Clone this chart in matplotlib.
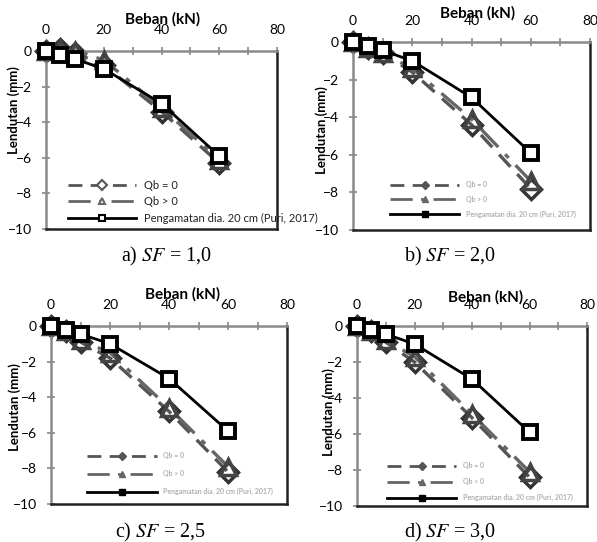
"""
plot.py - load vs deflection, four safety-factor panels (2x2).
"""

import matplotlib
matplotlib.use("Agg")
import matplotlib.pyplot as plt
from matplotlib.lines import Line2D

# ---- data -------------------------------------------------------------
load_obs = [0, 5, 10, 20, 40, 60]
defl_obs = [0, -0.2, -0.45, -1.0, -2.95, -5.9]

load_model = [0, 5, 10, 20, 40, 60]

# Qb = 0 per panel
qb0 = {
    "a": [0, 0.1, -0.1, -0.8, -3.4, -6.3],
    "b": [0, -0.3, -0.6, -1.6, -4.4, -7.8],
    "c": [0, -0.3, -0.9, -1.8, -4.8, -8.2],
    "d": [0, -0.3, -0.9, -2.0, -5.1, -8.4],
}
# Qb > 0 per panel
qbp = {
    "a": [0, 0.1, 0.0, -0.5, -3.2, -6.1],
    "b": [0, -0.3, -0.6, -1.4, -4.1, -7.4],
    "c": [0, -0.3, -0.8, -1.5, -4.6, -7.9],
    "d": [0, -0.3, -0.8, -1.7, -4.9, -8.1],
}

panels = ["a", "b", "c", "d"]
sf_values = ["1,0", "2,0", "2,5", "3,0"]
x_ticks = [0, 20, 40, 60, 80]
y_ticks = [0, -2, -4, -6, -8, -10]
labels = ["Qb = 0", "Qb > 0", "Pengamatan dia. 20 cm (Puri, 2017)"]

# ---- layout (pixel boxes: left, right, top, bottom) ------------------
W, H = 597, 542
boxes = {
    "a": (46, 277, 51, 229),
    "b": (353, 590, 42, 230),
    "c": (51, 287, 326, 504),
    "d": (357, 587, 326, 506),
}
title_pos = {"a": (163, 19), "b": (478, 13), "c": (183, 294), "d": (486, 297)}
caption_pos = {"a": (166, 256), "b": (450, 256), "c": (160, 532), "d": (450, 532)}
# y-axis title centre: x in pixels, y as axes fraction
ylabel_pos = {"a": (14, 0.67), "b": (322, 0.53), "c": (15, 0.545), "d": (329, 0.52)}
# legend: x start (axes frac), bottom (axes frac), label spacing
leg_pos = {
    "a": (0.095, 0.03, 0.5),
    "b": (0.156, 0.066, 1.1),
    "c": (0.153, 0.048, 1.6),
    "d": (0.13, 0.026, 1.3),
}

plt.rcParams["font.family"] = ["Lato", "DejaVu Sans"]

fig = plt.figure(figsize=(W / 100, H / 100), dpi=100)

c_qb0 = "#555555"
c_qbp = "#666666"
ls_qb0 = (0, (5, 3))
ls_qbp = (0, (8, 3, 1.5, 3))

for p, sf in zip(panels, sf_values):
    l, r, t, b = boxes[p]
    ax = fig.add_axes([l / W, 1 - b / H, (r - l) / W, (b - t) / H])

    ax.plot(load_model, qb0[p], color=c_qb0, lw=2.4, ls=ls_qb0,
            marker="D", ms=10, mfc="none", mec="#333333", mew=2.5,
            zorder=2, clip_on=False)
    ax.plot(load_model, qbp[p], color=c_qbp, lw=2.4, ls=ls_qbp,
            marker="^", ms=11, mfc="none", mec="#444444", mew=2.5,
            zorder=3, clip_on=False)
    ax.plot(load_obs, defl_obs, color="black", lw=2,
            marker="s", ms=10, mfc="white", mec="black", mew=2.8,
            zorder=4, clip_on=False)

    ax.set_xlim(0, 80)
    ax.set_ylim(-10, 0)
    ax.xaxis.tick_top()
    ax.set_xticks(x_ticks)
    ax.set_xticks([10, 30, 50, 70], minor=True)
    ax.set_yticks(y_ticks)
    ax.tick_params(axis="x", which="both", direction="inout", length=6,
                   width=1.2, color="#888888", labelsize=10, pad=8)
    ax.tick_params(axis="y", direction="inout", length=6, width=1.2,
                   color="#888888", labelsize=10, pad=7)
    for side, sp in ax.spines.items():
        sp.set_color("#222222" if side in ("bottom", "right") else "#8a8a8a")
        sp.set_linewidth(1.8)

    ax.set_ylabel("Lendutan (mm)", fontsize=9.5, fontweight="bold",
                  va="center")
    yl_x, yl_y = ylabel_pos[p]
    ax.yaxis.set_label_coords((yl_x - l) / (r - l), yl_y)

    tx, ty = title_pos[p]
    fig.text(tx / W, 1 - ty / H, "Beban (kN)", ha="center", va="center",
             fontsize=11, fontweight="bold")
    cx, cy = caption_pos[p]
    fig.text(cx / W, 1 - cy / H, f"{p}) $\\it{{SF}}$ = {sf}", ha="center",
             va="center", fontsize=14.5, family="Liberation Serif",
             math_fontfamily="stix")

    # legend with small markers
    if p == "a":
        fills = ["white", "white", "white"]
        ms, mew = 5, 1.5
        prop = dict(size=8)
        txt_color = "#222222"
        hl, htp = 6.1, 0.75
    else:
        fills = [c_qb0, c_qbp, "black"]
        ms, mew = 4, 1
        prop = dict(size=5, weight="bold")
        txt_color = "#b0b0b0"
        hl, htp = 10, 1.0
    lx, ly, lsp = leg_pos[p]
    handles = [
        Line2D([], [], color=c_qb0, lw=2, ls=ls_qb0, marker="D",
               mec=c_qb0, mfc=fills[0], ms=ms, mew=mew),
        Line2D([], [], color=c_qbp, lw=2, ls=ls_qbp, marker="^",
               mec=c_qbp, mfc=fills[1], ms=ms, mew=mew),
        Line2D([], [], color="black", lw=2, marker="s",
               mec="black", mfc=fills[2], ms=ms, mew=mew),
    ]
    leg = ax.legend(handles, labels, loc="lower left", bbox_to_anchor=(lx, ly),
                    frameon=False, prop=prop, handlelength=hl,
                    labelspacing=lsp, handletextpad=htp, borderpad=0,
                    borderaxespad=0)
    for tt in leg.get_texts():
        tt.set_color(txt_color)
    leg.set_zorder(1)

fig.savefig("out.png", dpi=100)
